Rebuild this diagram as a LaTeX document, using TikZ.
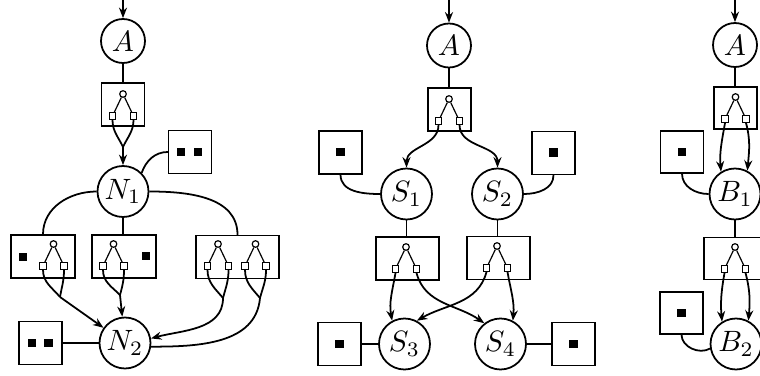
\documentclass[tikz,border=0pt]{standalone}
\usetikzlibrary{arrows.meta}
\def\pxu{0.34pt}
\tikzset{
  bigA/.style={circle, draw, line width=0.6pt, inner sep=0pt, minimum size=44*\pxu},
  big/.style={circle, draw, line width=0.6pt, inner sep=0pt, minimum size=51*\pxu},
  boxn/.style={rectangle, draw, line width=0.45pt, inner sep=0pt, minimum height=43*\pxu},
  tc/.style={circle, draw, line width=0.4pt, fill=white, inner sep=0pt, minimum size=6.6*\pxu},
  ts/.style={rectangle, draw, line width=0.4pt, fill=white, inner sep=0pt, minimum size=6.7*\pxu},
  bs/.style={rectangle, fill=black, inner sep=0pt, minimum size=8.5*\pxu},
  wire/.style={line width=0.6pt},
  arr/.style={line width=0.6pt, -{Stealth[length=10.5*\pxu, width=8*\pxu]}},
  thinw/.style={line width=0.4pt}
}
\newcommand\forkat[3]{%
  \node[tc] (#1c) at (#2,#3) {};
  \node[ts] (#1l) at (#2-10.5,#3-22) {};
  \node[ts] (#1r) at (#2+10.5,#3-22) {};
  \draw[thinw] (#1c) -- (#1l);
  \draw[thinw] (#1c) -- (#1r);
}
\begin{document}
\begin{tikzpicture}[x=\pxu, y=\pxu]
\useasboundingbox (0,0) rectangle (760,-376);
\clip (0,0) rectangle (760,-376);

% ---------------- Left diagram ----------------
\coordinate (A1in) at (123,0);
\node[bigA] (A1) at (123,-41) {$A$};
\draw[arr] (A1in) -- (A1);
\node[boxn, minimum width=43*\pxu] (F1) at (123,-104.5) {};
\draw[wire] (A1) -- (F1);
\forkat{F1}{123}{-94}
\coordinate (m1) at (123,-147);
\draw[wire] (F1l.south) to[out=-90,in=115] (m1);
\draw[wire] (F1r.south) to[out=-90,in=65] (m1);
\node[big] (N1) at (123,-191.5) {$N_1$};
\draw[arr] (m1) -- (N1);

\node[boxn, minimum width=43*\pxu] (D1) at (190,-152) {};
\node[bs] (D1a) at (181,-152) {};
\node[bs] (D1b) at (198,-152) {};
\draw[wire] (N1.45) to[out=70,in=180] (D1.west);

\node[boxn, minimum width=64*\pxu] (BL) at (43,-256.5) {};
\node[bs] (BLd) at (23,-257) {};
\forkat{BL}{53.5}{-244}
\node[boxn, minimum width=64*\pxu] (BM) at (124,-256.5) {};
\node[bs] (BMd) at (146,-256) {};
\forkat{BM}{113.5}{-244}
\node[boxn, minimum width=83*\pxu] (BR) at (237.5,-257) {};
\forkat{BRa}{218}{-244}
\forkat{BRb}{255.5}{-244}

\draw[wire] (N1.west) to[out=180,in=90] (BL.north);
\draw[wire] (N1.south) -- (N1.south |- BM.north);
\draw[wire] (N1.east) to[out=0,in=90] (BR.north);

\node[big] (N2) at (125,-343) {$N_2$};
\node[boxn, minimum width=43*\pxu] (D2) at (40.5,-343) {};
\node[bs] (D2a) at (32,-343) {};
\node[bs] (D2b) at (48.5,-343) {};
\draw[wire] (D2.east) -- (N2.west);

\coordinate (mL) at (60,-297);
\draw[wire] (BLl.south) to[out=-90,in=130] (mL);
\draw[wire] (BLr.south) to[out=-90,in=80] (mL);
\draw[arr] (mL) -- (N2);
\coordinate (mM) at (120,-295);
\draw[wire] (BMl.south) to[out=-90,in=135] (mM);
\draw[wire] (BMr.south) to[out=-90,in=75] (mM);
\draw[arr] (mM) -- (N2);
\coordinate (mR1) at (223,-298);
\draw[wire] (BRal.south) to[out=-90,in=130] (mR1);
\draw[wire] (BRar.south) to[out=-90,in=75] (mR1);
\draw[arr] (mR1) to[out=-90,in=15] (N2.10);
\coordinate (mR2) at (260,-298);
\draw[wire] (BRbl.south) to[out=-90,in=130] (mR2);
\draw[wire] (BRbr.south) to[out=-90,in=75] (mR2);
\draw[wire] (mR2) to[out=-95,in=0] (N2.-8);

% ---------------- Middle diagram ----------------
\coordinate (A2in) at (449,0);
\node[bigA] (A2) at (449,-45.5) {$A$};
\draw[arr] (A2in) -- (A2);
\node[boxn, minimum width=43*\pxu] (F2) at (449.5,-109.5) {};
\draw[wire] (A2) -- (A2 |- F2.north);
\forkat{F2}{449}{-99}
\node[big] (S1) at (406.5,-194) {$S_1$};
\node[big] (S2) at (497.5,-194) {$S_2$};
\draw[arr] (F2l.south) to[out=-90,in=90] (S1.north);
\draw[arr] (F2r.south) to[out=-90,in=90] (S2.north);

\node[boxn, minimum width=43*\pxu] (DL) at (340.5,-152.5) {};
\node[bs] (DLd) at (340.5,-152) {};
\node[boxn, minimum width=43*\pxu] (DR) at (553.5,-153) {};
\node[bs] (DRd) at (553.5,-152.5) {};
\draw[wire] (DL.south) to[out=-90,in=180] (S1.west);
\draw[wire] (DR.south) to[out=-90,in=0] (S2.east);

\node[boxn, minimum width=63*\pxu] (G1) at (407.5,-258.5) {};
\forkat{G1}{406}{-247}
\node[boxn, minimum width=63*\pxu] (G2) at (498.5,-258) {};
\forkat{G2}{497}{-246}
\draw[wire] (S1.south) -- (S1.south |- G1.north);
\draw[wire] (S2.south) -- (S2.south |- G2.north);

\node[big] (S3) at (404.5,-344) {$S_3$};
\node[big] (S4) at (500.5,-344) {$S_4$};
\node[boxn, minimum width=43*\pxu] (E1) at (339.5,-344) {};
\node[bs] (E1d) at (339.5,-344) {};
\node[boxn, minimum width=43*\pxu] (E2) at (573.5,-344) {};
\node[bs] (E2d) at (573.5,-344) {};
\draw[wire] (E1.east) -- (S3.west);
\draw[wire] (S4.east) -- (E2.west);

\draw[arr] (G1l.south) to[out=-100,in=100] (S3.118);
\draw[arr] (G1r.south) to[out=-75,in=145] (S4.128);
\draw[arr] (G2l.south) to[out=-105,in=30] (S3.62);
\draw[arr] (G2r.south) to[out=-80,in=85] (S4.62);

% ---------------- Right diagram ----------------
\coordinate (A3in) at (735,0);
\node[bigA] (A3) at (735,-45) {$A$};
\draw[arr] (A3in) -- (A3);
\node[boxn, minimum width=43*\pxu, minimum height=42*\pxu] (F3) at (735.5,-108) {};
\draw[wire] (A3) -- (A3 |- F3.north);
\forkat{F3}{735.5}{-97}
\node[big] (B1) at (735,-194) {$B_1$};
\draw[arr] (F3l.south) to[out=-100,in=95] (B1.122);
\draw[arr] (F3r.south) to[out=-75,in=85] (B1.62);
\node[boxn, minimum width=43*\pxu, minimum height=42*\pxu] (DB1) at (682,-152) {};
\node[bs] (DB1d) at (682,-152) {};
\draw[wire] (DB1.south) to[out=-90,in=180] (B1.west);

\node[boxn, minimum width=64*\pxu, minimum height=42*\pxu] (G3) at (736,-258.5) {};
\forkat{G3}{735}{-247}
\draw[wire] (B1.south) -- (B1.south |- G3.north);
\node[big] (B2) at (736,-344) {$B_2$};
\draw[arr] (G3l.south) to[out=-100,in=95] (B2.122);
\draw[arr] (G3r.south) to[out=-75,in=85] (B2.62);
\node[boxn, minimum width=43*\pxu, minimum height=42*\pxu] (DB2) at (681.5,-313) {};
\node[bs] (DB2d) at (681.5,-313) {};
\draw[wire] (DB2.south) to[out=-90,in=210] (B2.190);
\end{tikzpicture}
\end{document}
